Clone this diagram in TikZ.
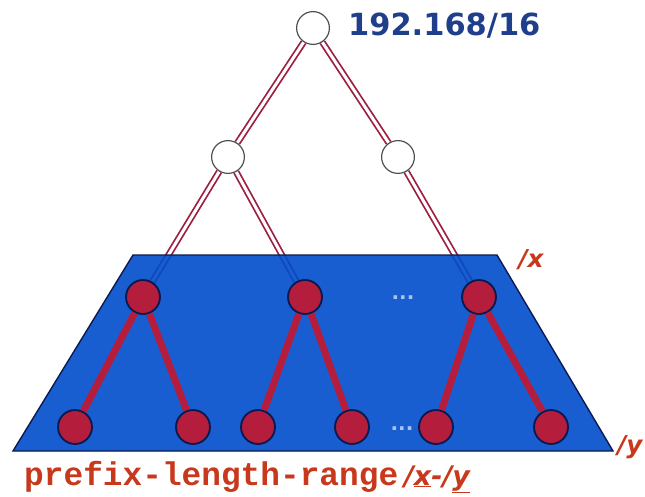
\documentclass[tikz,border=0pt]{standalone}
\usepackage{fontspec}
\setmainfont{DejaVu Sans}
\newfontfamily\courfont{Liberation Mono}
\definecolor{PBlue}{HTML}{004CCC}
\definecolor{PEdge}{HTML}{0A1A50}
\definecolor{PRed}{HTML}{B41E3C}
\definecolor{PLine}{HTML}{9E1E40}
\definecolor{PText}{HTML}{C8381C}
\definecolor{PLabel}{HTML}{1F3F8C}
\definecolor{PDots}{HTML}{A8C4F0}
\usetikzlibrary{positioning}
\pgfdeclarelayer{back}
\pgfdeclarelayer{mid}
\pgfsetlayers{back,mid,main}

\tikzset{
  trienode/.style={circle,draw=black!70,line width=1pt,fill=white,
                   minimum size=28pt,inner sep=0pt},
  rangenode/.style={circle,draw=PEdge,line width=1.6pt,fill=PRed,
                    minimum size=29pt,inner sep=0pt},
  branch/.style={draw=PLine,line width=1.5pt,double=white,double distance=2.6pt},
  leafedge/.style={draw=PRed,line width=6pt},
  lenlabel/.style={text=PText,font=\bfseries\itshape\fontsize{21}{21}\selectfont},
  dots/.style={text=PDots,font=\bfseries\fontsize{17}{17}\selectfont},
}

\begin{document}
\begin{tikzpicture}[x=0.03cm,y=-0.03cm]
  \useasboundingbox (0,0) rectangle (645,496);
  % prefix range band
  \begin{pgfonlayer}{mid}
    \fill[PBlue,fill opacity=0.9] (133,255) -- (497,255) -- (613,451) -- (13,451) -- cycle;
    \draw[PEdge,line width=1.2pt] (133,255) -- (497,255) -- (613,451) -- (13,451) -- cycle;
  \end{pgfonlayer}

  % upper trie
  \node[trienode] (root) at (313,28) {};
  \node[trienode] (left) at (228,157) {};
  \node[trienode] (right) at (398,157) {};
  \node[anchor=west,text=PLabel,font=\bfseries\fontsize{26}{26}\selectfont]
    (net) at (344,26) {192.168/16};

  % nodes at /x
  \node[rangenode] (xa) at (143,297) {};
  \node[rangenode] (xb) at (305,297) {};
  \node[rangenode] (xc) at (479,297) {};
  \node[dots] (xdots) at (403,298) {...};

  % nodes at /y
  \node[rangenode] (ya) at (75,427) {};
  \node[rangenode] (yb) at (193,427) {};
  \node[rangenode] (yc) at (258,427) {};
  \node[rangenode] (yd) at (352,427) {};
  \node[rangenode] (ye) at (436,427) {};
  \node[rangenode] (yf) at (551,427) {};
  \node[dots] (ydots) at (402,429) {...};

  \begin{pgfonlayer}{back}
    \draw[branch] (root) -- (left);
    \draw[branch] (root) -- (right);
    \draw[branch] (left) -- (xa);
    \draw[branch] (left) -- (xb);
    \draw[branch] (right) -- (xc);
  \end{pgfonlayer}
  \draw[leafedge] (xa) -- (ya);
  \draw[leafedge] (xa) -- (yb);
  \draw[leafedge] (xb) -- (yc);
  \draw[leafedge] (xb) -- (yd);
  \draw[leafedge] (xc) -- (ye);
  \draw[leafedge] (xc) -- (yf);

  \node[lenlabel] (xlen) at (531,260) {/x};
  \node[lenlabel] (ylen) at (630,447) {/y};

  \node[anchor=base west,inner sep=0pt,text=PText] (range) at (24,485)
    {{\courfont\bfseries\fontsize{28}{28}\selectfont prefix-length-range}%
     \hspace{5pt}{\bfseries\itshape\fontsize{23}{23}\selectfont /\underline{x}-/\underline{y}}};
\end{tikzpicture}
\end{document}
